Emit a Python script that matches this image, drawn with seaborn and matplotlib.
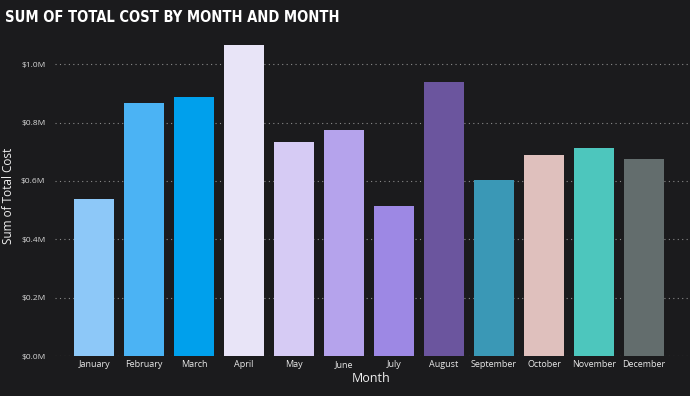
import seaborn as sns
import matplotlib.pyplot as plt
import pandas as pd

months = ['January', 'February', 'March', 'April', 'May', 'June',
          'July', 'August', 'September', 'October', 'November', 'December']
total_cost = [0.538, 0.866, 0.887, 1.065, 0.733, 0.774,
              0.514, 0.938, 0.603, 0.688, 0.712, 0.675]  # in $M
month_colors = ['#8DC8F8', '#4BB3F4', '#00A0EC', '#E8E4F7', '#D6CBF4', '#B5A3EC',
                '#9D88E4', '#6B559E', '#3A98B6', '#DFC0BD', '#4DC6BD', '#636D6D']

df = pd.DataFrame({'Month': months, 'Total Cost': total_cost})

bg = '#1B1B1D'
sns.set_theme(style='dark')
plt.rcParams['font.family'] = ['Open Sans', 'DejaVu Sans']

fig = plt.figure(figsize=(6.9, 3.96), dpi=100, facecolor=bg)
ax = fig.add_axes([55 / 690, 1 - 356 / 396, 633 / 690, (356 - 35) / 396])
ax.set_facecolor(bg)

sns.barplot(data=df, x='Month', y='Total Cost', hue='Month', palette=month_colors,
            legend=False, width=0.8, saturation=1, linewidth=0, edgecolor='none', ax=ax)

ax.set_xlim(-0.78, 11.88)
ax.set_ylim(0, 1.1)
ax.set_yticks([0, 0.2, 0.4, 0.6, 0.8, 1.0])
ax.set_yticklabels([f'${v:.1f}M' for v in [0, 0.2, 0.4, 0.6, 0.8, 1.0]])
ax.yaxis.grid(True, linestyle=(0, (1, 3)), color='#8a8a8a', linewidth=0.8)
ax.xaxis.grid(False)
ax.set_axisbelow(True)
for s in ax.spines.values():
    s.set_visible(False)

ax.tick_params(axis='y', colors='#d8d8d8', labelsize=6, length=0, pad=7)
ax.tick_params(axis='x', colors='#e8e8e8', labelsize=6.5, length=0, pad=3)

ax.set_xlabel('Month', color='#f0f0f0', fontsize=9, labelpad=2)
ax.set_ylabel('Sum of Total Cost', color='#f0f0f0', fontsize=8.5, labelpad=4)

fig.text(5 / 690, 1 - 17 / 396, 'SUM OF TOTAL COST BY MONTH AND MONTH',
         color='white', fontsize=10.5, fontweight='bold', va='center', ha='left',
         family='DejaVu Sans', fontstretch='condensed')

fig.savefig('out.png', dpi=100, facecolor=bg)
